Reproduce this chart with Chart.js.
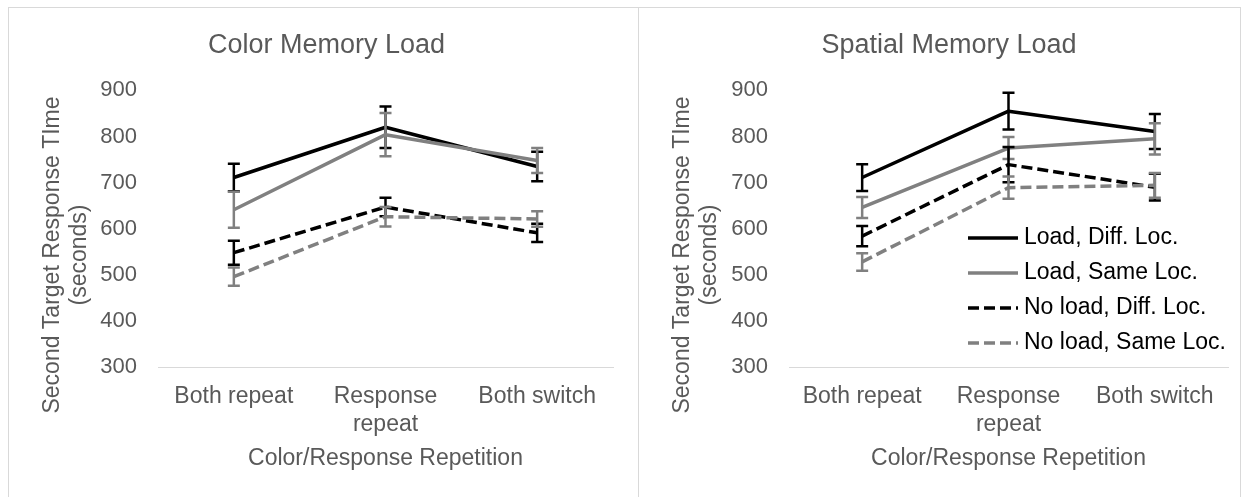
<!DOCTYPE html>
<html>
<head>
<meta charset="utf-8">
<script src="https://cdn.jsdelivr.net/npm/chart.js@4.4.0/dist/chart.umd.min.js"></script>
<style>
  html, body { margin: 0; padding: 0; background: #fff; }
  body { width: 1248px; height: 497px; position: relative; overflow: hidden; }
  .frame { position: absolute; left: 8px; top: 7px; width: 1233px; height: 520px; border: 1px solid #d9d9d9; box-sizing: border-box; }
  .divider { position: absolute; left: 638px; top: 7px; width: 1px; height: 520px; background: #d9d9d9; }
  canvas { position: absolute; top: 8px; }
  #colorChart { left: 9px; }
  #spatialChart { left: 639px; }
</style>
</head>
<body>
<div class="frame"></div>
<div class="divider"></div>
<canvas id="colorChart" width="629" height="489"></canvas>
<canvas id="spatialChart" width="601" height="489"></canvas>
<script>
// Data
const categories = ['Both repeat', ['Response', 'repeat'], 'Both switch'];
const seriesNames = ['Load, Diff. Loc.', 'Load, Same Loc.', 'No load, Diff. Loc.', 'No load, Same Loc.'];
const yTicks = [300, 400, 500, 600, 700, 800, 900];
const yTitle = ['Second Target Response TIme', '(seconds)'];
const xTitle = 'Color/Response Repetition';

// Color memory load panel
const colorLoadDiff = [711, 820, 735];
const colorLoadSame = [641, 804, 748];
const colorNoLoadDiff = [548, 647, 591];
const colorNoLoadSame = [496, 626, 621];
const colorLoadDiffErr = [30, 45, 32];
const colorLoadSameErr = [39, 47, 27];
const colorNoLoadDiffErr = [26, 20, 20];
const colorNoLoadSameErr = [20, 21, 17];

// Spatial memory load panel
const spatialLoadDiff = [711, 855, 811];
const spatialLoadSame = [646, 775, 795];
const spatialNoLoadDiff = [584, 739, 690];
const spatialNoLoadSame = [528, 689, 694];
const spatialLoadDiffErr = [29, 40, 38];
const spatialLoadSameErr = [23, 24, 34];
const spatialNoLoadDiffErr = [22, 38, 29];
const spatialNoLoadSameErr = [19, 24, 27];

// Styles
const FONT = '"Liberation Sans", Arial, Helvetica, sans-serif';
const TEXT = '#595959';
const BLACK = '#000000';
const GRAY = '#808080';
const DASH = [11, 5];
const seriesColors = [BLACK, GRAY, BLACK, GRAY];
const seriesDashes = [[], [], DASH, DASH];

Chart.defaults.font.family = FONT;

// error bars drawn right after each series line
const errorBars = {
    id: 'errorBars',
    afterDatasetDraw(chart, args) {
        const ds = chart.data.datasets[args.index];
        const yScale = chart.scales.y;
        const ctx = chart.ctx;
        ctx.save();
        ctx.strokeStyle = ds.borderColor;
        ctx.lineWidth = 2.5;
        ctx.setLineDash([]);
        args.meta.data.forEach((pt, i) => {
            const v = ds.data[i];
            const e = ds.errors[i];
            const top = yScale.getPixelForValue(v + e);
            const bot = yScale.getPixelForValue(v - e);
            ctx.beginPath();
            ctx.moveTo(pt.x, top); ctx.lineTo(pt.x, bot);
            ctx.moveTo(pt.x - 6, top); ctx.lineTo(pt.x + 6, top);
            ctx.moveTo(pt.x - 6, bot); ctx.lineTo(pt.x + 6, bot);
            ctx.stroke();
        });
        ctx.restore();
    }
};

// y axis title: two rotated lines, centred a bit below the plot middle like the original
const yAxisTitle = {
    id: 'yAxisTitle',
    afterDraw(chart) {
        const ctx = chart.ctx;
        ctx.save();
        ctx.font = '23px ' + FONT;
        ctx.fillStyle = TEXT;
        ctx.textAlign = 'center';
        ctx.textBaseline = 'middle';
        yTitle.forEach((line, i) => {
            ctx.save();
            ctx.translate(44 + i * 27, 247);
            ctx.rotate(-Math.PI / 2);
            ctx.fillText(line, 0, 0);
            ctx.restore();
        });
        ctx.restore();
    }
};

// legend sitting inside the plot of the right panel
const insideLegend = {
    id: 'insideLegend',
    afterDraw(chart, args, opts) {
        if (!opts.show) return;
        const ctx = chart.ctx;
        const x0 = chart.chartArea.left + 179;
        ctx.save();
        ctx.font = '23px ' + FONT;
        ctx.textBaseline = 'middle';
        chart.data.datasets.forEach((ds, i) => {
            const yy = 230 + i * 35;
            ctx.strokeStyle = ds.borderColor;
            ctx.lineWidth = 3.5;
            ctx.setLineDash(ds.borderDash);
            ctx.beginPath();
            ctx.moveTo(x0, yy);
            ctx.lineTo(x0 + 50, yy);
            ctx.stroke();
            ctx.fillStyle = '#000';
            ctx.fillText(ds.label, x0 + 56, yy);
        });
        ctx.restore();
    }
};

const makeChart = (id, title, values, errors, yWidth, padRight, showLegend) => {
    const datasets = values.map((vals, i) => ({
        label: seriesNames[i],
        data: vals,
        errors: errors[i],
        borderColor: seriesColors[i],
        backgroundColor: seriesColors[i],
        borderDash: seriesDashes[i],
        borderWidth: 3.5,
        borderJoinStyle: 'round',
        pointRadius: 0,
        tension: 0,
        order: values.length - i
    }));

    return new Chart(document.getElementById(id), {
        type: 'line',
        data: { labels: categories, datasets: datasets },
        plugins: [errorBars, yAxisTitle, insideLegend],
        options: {
            responsive: false,
            animation: false,
            devicePixelRatio: 1,
            layout: { padding: { left: 31, right: padRight, top: 0, bottom: 0 } },
            plugins: {
                legend: { display: false },
                tooltip: { enabled: false },
                insideLegend: { show: showLegend },
                title: {
                    display: true,
                    text: title,
                    color: TEXT,
                    font: { size: 27, weight: 'normal', lineHeight: 1.2 },
                    padding: { top: 21, bottom: 29 }
                }
            },
            scales: {
                x: {
                    type: 'category',
                    offset: true,
                    grid: { display: false, drawTicks: false },
                    border: { display: true, color: '#d9d9d9', width: 1 },
                    ticks: {
                        color: TEXT,
                        font: { size: 23, lineHeight: '28px' },
                        padding: 16,
                        maxRotation: 0,
                        autoSkip: false
                    },
                    title: {
                        display: true,
                        text: xTitle,
                        color: TEXT,
                        font: { size: 23, lineHeight: '26px' },
                        padding: { top: 0, bottom: 25 }
                    },
                    afterFit(s) { s.height = 130; }
                },
                y: {
                    min: yTicks[0],
                    max: yTicks[yTicks.length - 1],
                    grid: { display: false, drawTicks: false },
                    border: { display: false },
                    afterBuildTicks(s) { s.ticks = yTicks.map(v => ({ value: v })); },
                    ticks: { color: TEXT, font: { size: 22 }, padding: 21 },
                    title: { display: false },
                    afterFit(s) { s.width = yWidth; }
                }
            }
        }
    });
};

makeChart('colorChart', 'Color Memory Load',
    [colorLoadDiff, colorLoadSame, colorNoLoadDiff, colorNoLoadSame],
    [colorLoadDiffErr, colorLoadSameErr, colorNoLoadDiffErr, colorNoLoadSameErr],
    118, 25, false);

makeChart('spatialChart', 'Spatial Memory Load',
    [spatialLoadDiff, spatialLoadSame, spatialNoLoadDiff, spatialNoLoadSame],
    [spatialLoadDiffErr, spatialLoadSameErr, spatialNoLoadDiffErr, spatialNoLoadSameErr],
    119, 12, true);
</script>
</body>
</html>
